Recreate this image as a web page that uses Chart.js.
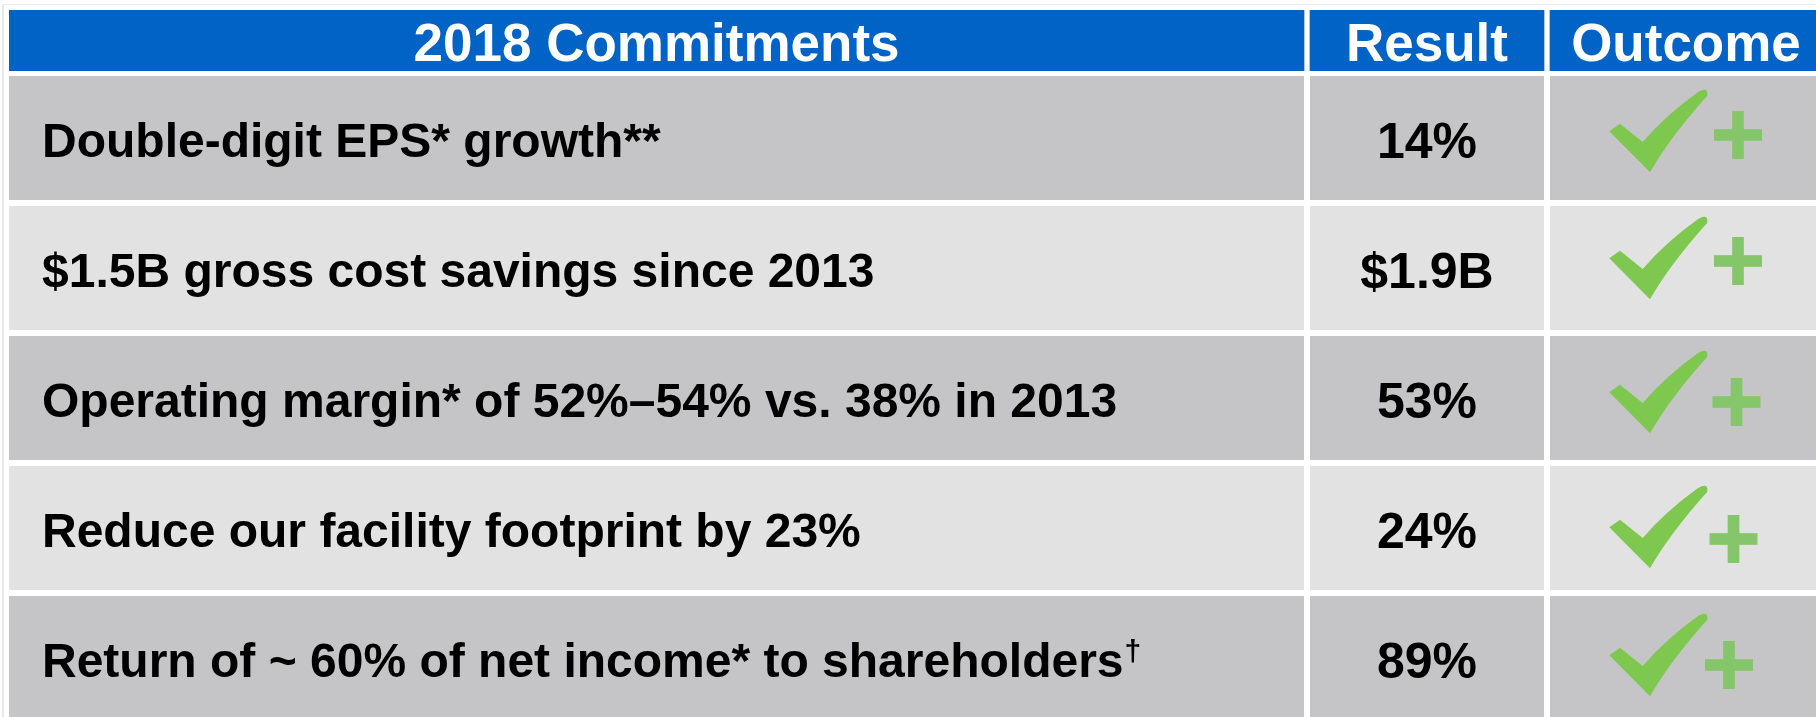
<!DOCTYPE html>
<html>
<head>
<meta charset="utf-8">
<script src="https://cdn.jsdelivr.net/npm/chart.js@4.4.1/dist/chart.umd.min.js"></script>
<style>
  html, body { margin: 0; padding: 0; background: #ffffff; width: 1816px; height: 717px; overflow: hidden; position: relative; }
  #frameV { position: absolute; left: 2px; top: 4px; width: 2px; height: 713px; background: #e9e9e9; }
  #frameH { position: absolute; left: 2px; top: 4px; width: 1814px; height: 1px; background: #eeeeee; }
  #hdr { position: absolute; left: 9px; top: 10px; width: 1807px; height: 61px; }
  #body { position: absolute; left: 9px; top: 73px; width: 1807px; height: 650px; }
</style>
</head>
<body>
<div id="frameV"></div>
<div id="frameH"></div>
<div id="hdr"><canvas id="hc"></canvas></div>
<div id="body"><canvas id="bc"></canvas></div>
<script>
// ---------------- DATA ----------------
const headers = ['2018 Commitments', 'Result', 'Outcome'];
const commitments = [
  'Double-digit EPS* growth**',
  '$1.5B gross cost savings since 2013',
  'Operating margin* of 52%\u201354% vs. 38% in 2013',
  'Reduce our facility footprint by 23%',
  'Return of ~ 60% of net income* to shareholders'
];
const footnoteMarks = ['', '', '', '', '\u2020'];
const results = ['14%', '$1.9B', '53%', '24%', '89%'];
const outcomes = ['check-plus', 'check-plus', 'check-plus', 'check-plus', 'check-plus'];

// ---------------- LAYOUT / STYLE ----------------
const COL_WIDTHS = [1295, 234, 272];   // relative column widths (scale units)
const COL_GAP = 6;
const SCALE_MAX = 1807;
const ROW_BAND = 130, ROW_CELL = 124;
const BLUE = '#0063C5';
const ROW_COLORS = ['#C5C5C7', '#E2E2E2'];
const CHECK_GREEN = '#7EC850';
const PLUS_GREEN = '#86C66A';
const FONT = '"Liberation Sans", Arial, Helvetica, sans-serif';
// per-row icon placement tweaks (relative to cell)
const CHECK_DY = [3, 0, 4, 9, 7];
const PLUS_POS = [[188, 59], [188, 55], [186.5, 66], [183.5, 73], [179, 69]];

const colRanges = [];
{ let s = 0; COL_WIDTHS.forEach(w => { colRanges.push([s, s + w]); s += w + COL_GAP; }); }

function xScaleOpts() {
  return { type: 'linear', min: 0, max: SCALE_MAX, display: false };
}

// -------------- header chart --------------
const headerTextPlugin = {
  id: 'headerText',
  afterDatasetsDraw(chart) {
    const ctx = chart.ctx;
    ctx.save();
    ctx.fillStyle = '#ffffff';
    ctx.font = 'bold 53px ' + FONT;
    ctx.textAlign = 'center';
    ctx.textBaseline = 'alphabetic';
    chart.data.datasets.forEach((ds, c) => {
      const el = chart.getDatasetMeta(c).data[0];
      const p = el.getProps(['x', 'base', 'y'], true);
      ctx.fillText(headers[c], (p.x + p.base) / 2, p.y + 20);
    });
    ctx.restore();
  }
};

new Chart(document.getElementById('hc'), {
  type: 'bar',
  data: {
    labels: ['header'],
    datasets: headers.map((h, c) => ({
      label: h,
      data: [colRanges[c]],
      backgroundColor: BLUE,
      borderWidth: 0,
      grouped: false,
      barPercentage: 1,
      categoryPercentage: 1
    }))
  },
  options: {
    indexAxis: 'y',
    responsive: true,
    maintainAspectRatio: false,
    animation: false,
    devicePixelRatio: 1,
    layout: { padding: 0 },
    plugins: { legend: { display: false }, tooltip: { enabled: false }, title: { display: false } },
    scales: { x: xScaleOpts(), y: { type: 'category', display: false } }
  },
  plugins: [headerTextPlugin]
});

// -------------- body chart --------------
function drawCheck(ctx, x0, y0) {
  ctx.beginPath();
  ctx.moveTo(x0 + 59.3, y0 + 52.3);
  ctx.lineTo(x0 + 70, y0 + 44.7);
  ctx.lineTo(x0 + 92.7, y0 + 63);
  ctx.quadraticCurveTo(x0 + 116, y0 + 36, x0 + 146.7, y0 + 14);
  ctx.quadraticCurveTo(x0 + 158.5, y0 + 6.5, x0 + 157.3, y0 + 16.7);
  ctx.quadraticCurveTo(x0 + 119.4, y0 + 59, x0 + 100, y0 + 93.3);
  ctx.closePath();
  ctx.fill();
}
function drawPlus(ctx, cx, cy) {
  const s = 48, t = 11.7;
  ctx.fillRect(cx - t / 2, cy - s / 2, t, s);
  ctx.fillRect(cx - s / 2, cy - t / 2, s, t);
}

const bodyTextPlugin = {
  id: 'bodyText',
  afterDatasetsDraw(chart) {
    const ctx = chart.ctx;
    ctx.save();
    ctx.textBaseline = 'alphabetic';
    const m0 = chart.getDatasetMeta(0), m1 = chart.getDatasetMeta(1), m2 = chart.getDatasetMeta(2);
    commitments.forEach((txt, i) => {
      // column 1: commitment text
      const p0 = m0.data[i].getProps(['x', 'base', 'y', 'height'], true);
      ctx.fillStyle = '#000000';
      ctx.font = 'bold 48px ' + FONT;
      ctx.textAlign = 'left';
      const tx = p0.base + 33;
      ctx.fillText(txt, tx, p0.y + 18.5);
      if (footnoteMarks[i]) {
        const w = ctx.measureText(txt).width;
        ctx.font = 'bold 30px ' + FONT;
        ctx.fillText(footnoteMarks[i], tx + w + 1, p0.y + 3);
      }
      // column 2: result
      const p1 = m1.data[i].getProps(['x', 'base', 'y', 'height'], true);
      ctx.font = 'bold 50px ' + FONT;
      ctx.textAlign = 'center';
      ctx.fillText(results[i], (p1.x + p1.base) / 2, p1.y + 19.5);
      // column 3: outcome icon
      const p2 = m2.data[i].getProps(['x', 'base', 'y', 'height'], true);
      if (outcomes[i] === 'check-plus') {
        const left = p2.base, top = p2.y - p2.height / 2;
        ctx.fillStyle = CHECK_GREEN;
        drawCheck(ctx, left, top + CHECK_DY[i]);
        ctx.fillStyle = PLUS_GREEN;
        drawPlus(ctx, left + PLUS_POS[i][0], top + PLUS_POS[i][1]);
      }
    });
    ctx.restore();
  }
};

new Chart(document.getElementById('bc'), {
  type: 'bar',
  data: {
    labels: commitments,
    datasets: headers.map((h, c) => ({
      label: h,
      data: commitments.map(() => colRanges[c]),
      backgroundColor: commitments.map((_, i) => ROW_COLORS[i % 2]),
      borderWidth: 0,
      grouped: false,
      barPercentage: ROW_CELL / ROW_BAND,
      categoryPercentage: 1
    }))
  },
  options: {
    indexAxis: 'y',
    responsive: true,
    maintainAspectRatio: false,
    animation: false,
    devicePixelRatio: 1,
    layout: { padding: 0 },
    plugins: { legend: { display: false }, tooltip: { enabled: false }, title: { display: false } },
    scales: { x: xScaleOpts(), y: { type: 'category', display: false } }
  },
  plugins: [bodyTextPlugin]
});
</script>
</body>
</html>
